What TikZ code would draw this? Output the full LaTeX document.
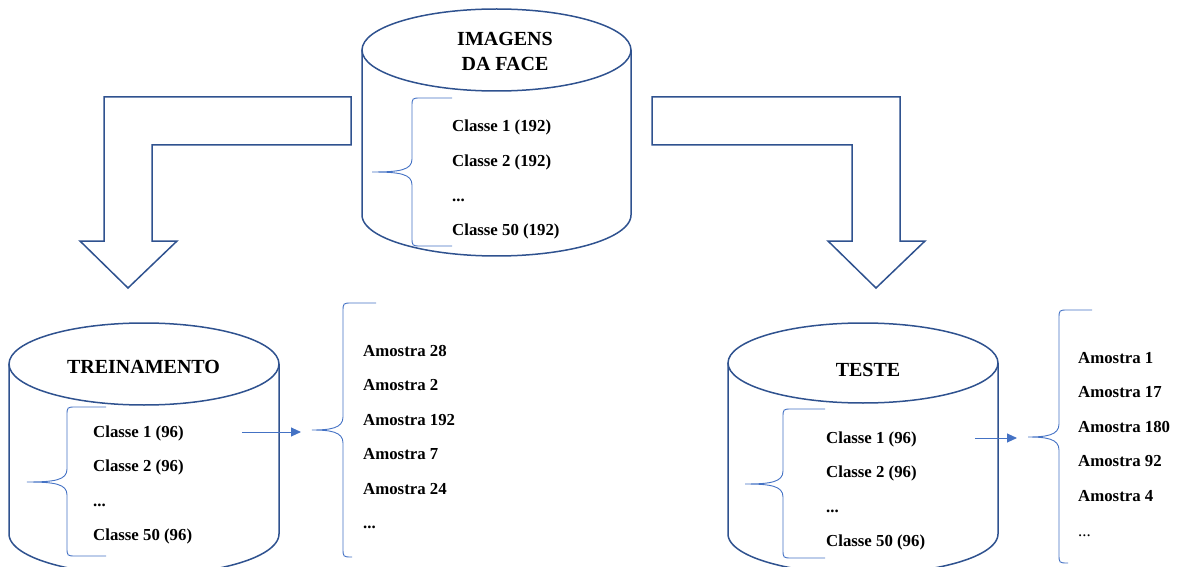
\documentclass[tikz,border=0pt]{standalone}
\usepackage{fontspec}
\setmainfont{Liberation Serif}
\usetikzlibrary{arrows.meta}

\definecolor{canblue}{HTML}{2F528F}
\definecolor{lineblue}{HTML}{4472C4}

\tikzset{
	can/.style={draw=canblue, line width=1.5pt},
	bentarrow/.style={draw=canblue, line width=1.5pt, line join=miter},
	curly/.style={draw=lineblue, line width=0.9pt},
	title/.style={font=\bfseries\fontsize{20}{25}\selectfont, align=center, inner sep=0pt},
	item/.style={font=\bfseries\fontsize{16.8}{19}\selectfont, anchor=west, inner sep=0pt, text height=13.5pt, text depth=1.5pt},
	pointer/.style={draw=lineblue, line width=0.9pt, -{Triangle[length=10pt,width=9pt]}}
}

%Curly brace opening to the right
%#1 top end x, #2 bottom end x, #3 vertical x, #4 cusp x, #5 top y, #6 cusp y, #7 bottom y
\newcommand{\facebrace}[7]{%
	\draw[curly] (#1,#5) -- (#3+9,#5) .. controls (#3,#5) .. (#3,#5+9) -- (#3,#6-13)
		.. controls (#3,#6-2) and (#3-12,#6) .. (#4,#6)
		.. controls (#3-12,#6) and (#3,#6+2) .. (#3,#6+13) -- (#3,#7-9)
		.. controls (#3,#7) .. (#3+9,#7) -- (#2,#7);}

\begin{document}
\begin{tikzpicture}[x=1pt,y=-1pt]

	\clip (0,0) rectangle (1179,567);

	%%%%%%%%%%%%%%%%%%%%%%%%%%%%%%%%%%%%%%%%%%%%%%%%%%%%%%%%
	%	Face images split into training and test sets   %
	%%%%%%%%%%%%%%%%%%%%%%%%%%%%%%%%%%%%%%%%%%%%%%%%%%%%%%%%

	%Top can: centre x, radii, top and bottom ellipse centres
	\pgfmathsetmacro{\cx}{496.5}
	\pgfmathsetmacro{\rx}{134.5}
	\pgfmathsetmacro{\ry}{41}
	\pgfmathsetmacro{\yt}{50}
	\pgfmathsetmacro{\yb}{215}
	\draw[can] (\cx,\yt) ellipse[x radius=\rx, y radius=\ry];
	\draw[can] (\cx-\rx,\yt) -- plot[domain=180:0,samples=60,smooth,variable=\ang] ({\cx+\rx*cos(\ang)},{\yb+\ry*sin(\ang)}) -- (\cx+\rx,\yt);

	\node[title] (faces) at (505,51.5) {IMAGENS\\DA FACE};
	\node[item] (fc1) at (452,126) {Classe 1 (192)};
	\node[item] (fc2) at (452,160.5) {Classe 2 (192)};
	\node[item] (fcd) at (452,195) {...};
	\node[item] (fc50) at (452,229.5) {Classe 50 (192)};
	\facebrace{452}{452}{412}{372}{98}{172}{246}

	%Bent arrow to the left (training)
	\draw[bentarrow] (351,97) -- (104,97) -- (104,241) -- (80,241) -- (128,288) -- (177,241)
		-- (152,241) -- (152,145) -- (351,145) -- cycle;
	%Bent arrow to the right (test)
	\draw[bentarrow] (652,97) -- (900,97) -- (900,241) -- (925,241) -- (876,288) -- (828,241)
		-- (852,241) -- (852,145) -- (652,145) -- cycle;

	%Training can
	\pgfmathsetmacro{\cx}{144}
	\pgfmathsetmacro{\rx}{135}
	\pgfmathsetmacro{\ry}{41}
	\pgfmathsetmacro{\yt}{364}
	\pgfmathsetmacro{\yb}{534}
	\draw[can] (\cx,\yt) ellipse[x radius=\rx, y radius=\ry];
	\draw[can] (\cx-\rx,\yt) -- plot[domain=180:0,samples=60,smooth,variable=\ang] ({\cx+\rx*cos(\ang)},{\yb+\ry*sin(\ang)}) -- (\cx+\rx,\yt);

	\node[title] (train) at (143.5,366.5) {TREINAMENTO};
	\node[item] (tr1) at (93,431) {Classe 1 (96)};
	\node[item] (tr2) at (93,465.5) {Classe 2 (96)};
	\node[item] (trd) at (93,500) {...};
	\node[item] (tr50) at (93,534.5) {Classe 50 (96)};
	\facebrace{106}{106}{67}{27}{407}{482}{556}

	%Training samples
	\node[item] (ta1) at (363,350) {Amostra 28};
	\node[item] (ta2) at (363,384.5) {Amostra 2};
	\node[item] (ta3) at (363,419) {Amostra 192};
	\node[item] (ta4) at (363,453.5) {Amostra 7};
	\node[item] (ta5) at (363,488) {Amostra 24};
	\node[item] (tad) at (363,522.5) {...};
	\facebrace{376}{350}{343}{312}{303}{430}{557}
	\coordinate (trbrace) at (312,430);
	\draw[pointer] ([xshift=58pt,yshift=-1pt]tr1.east) -- ([xshift=-11pt,yshift=-1pt]tr1.east -| trbrace);

	%Test can
	\pgfmathsetmacro{\cx}{863}
	\pgfmathsetmacro{\rx}{135}
	\pgfmathsetmacro{\ry}{40}
	\pgfmathsetmacro{\yt}{363}
	\pgfmathsetmacro{\yb}{534}
	\draw[can] (\cx,\yt) ellipse[x radius=\rx, y radius=\ry];
	\draw[can] (\cx-\rx,\yt) -- plot[domain=180:0,samples=60,smooth,variable=\ang] ({\cx+\rx*cos(\ang)},{\yb+\ry*sin(\ang)}) -- (\cx+\rx,\yt);

	\node[title] (test) at (868,369.5) {TESTE};
	\node[item] (te1) at (826,437) {Classe 1 (96)};
	\node[item] (te2) at (826,471.5) {Classe 2 (96)};
	\node[item] (ted) at (826,506) {...};
	\node[item] (te50) at (826,540.5) {Classe 50 (96)};
	\facebrace{825}{825}{783}{745}{409}{484}{558}

	%Test samples
	\node[item] (sa1) at (1078,357) {Amostra 1};
	\node[item] (sa2) at (1078,391.5) {Amostra 17};
	\node[item] (sa3) at (1078,426) {Amostra 180};
	\node[item] (sa4) at (1078,460.5) {Amostra 92};
	\node[item] (sa5) at (1078,495) {Amostra 4};
	\node[item,font=\mdseries\fontsize{16.8}{19}\selectfont] (sad) at (1078,530) {...};
	\facebrace{1092}{1065}{1059}{1028}{310}{437}{563}
	\coordinate (tebrace) at (1028,437);
	\draw[pointer] ([xshift=58pt,yshift=-1pt]te1.east) -- ([xshift=-11pt,yshift=-1pt]te1.east -| tebrace);

\end{tikzpicture}
\end{document}
